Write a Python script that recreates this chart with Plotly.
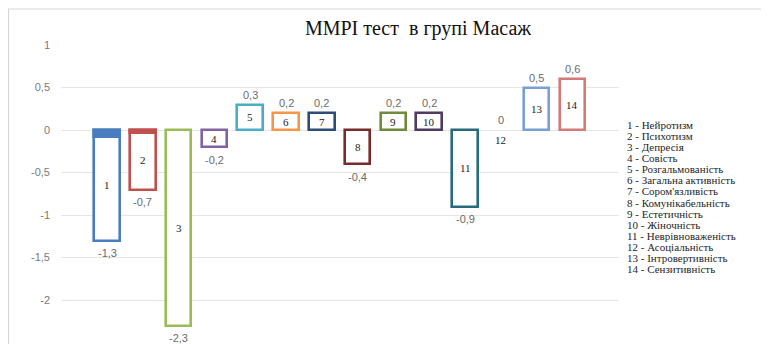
import plotly.graph_objects as go

# ---- data ----
categories = list(range(1, 15))
values = [-1.3, -0.7, -2.3, -0.2, 0.3, 0.2, 0.2, -0.4, 0.2, 0.2, -0.9, 0.0, 0.5, 0.6]
scale_names = [
    "Нейротизм", "Психотизм", "Депресія", "Совість", "Розгальмованість",
    "Загальна активність", "Сором'язливість", "Комунікабельність", "Естетичність",
    "Жіночність", "Неврівноваженість", "Асоціальність", "Інтровертивність", "Сензитивність",
]
# filled top caps visible on bars 1 and 2 of the original picture
cap_values = [-0.08, -0.035, 0, 0, 0, 0, 0, 0, 0, 0, 0, 0, 0, 0]
y_ticks = [-2, -1.5, -1, -0.5, 0, 0.5, 1]
y_tick_labels = ["-2", "-1,5", "-1", "-0,5", "0", "0,5", "1"]
title_text = "MMPI тест  в групі Масаж"

colors = ["#4a7cc0", "#c0504d", "#9bbb59", "#8064a2", "#4bacc6", "#f79646", "#2c4d75",
          "#772c2a", "#6f8a3a", "#4d3b62", "#276a7c", "#b65708", "#7b9fd3", "#d4797a"]

# the page places the figure 8px from the top-left corner of the window
OFF = 8
W, H = 769 - OFF, 344 - OFF
L, R, T, B = 61 - OFF, 150, 45 - OFF, 3
pw, ph = W - L - R, H - T - B

fig = go.Figure()
fig.add_trace(go.Bar(
    x=categories, y=values, width=0.72,
    marker=dict(color="white",
                line=dict(color=colors, width=[0 if v == 0 else 2.6 for v in values])),
    hoverinfo="skip",
))
fig.add_trace(go.Bar(
    x=categories, y=cap_values, width=0.72,
    marker=dict(color=colors, line=dict(color=colors, width=[2.6 if c else 0 for c in cap_values])),
    hoverinfo="skip",
))

ann = []
for c, v in zip(categories, values):
    txt = ("%.1f" % v).replace(".", ",") if v != 0 else "0"
    ann.append(dict(x=c, y=v, xref="x", yref="y", text=txt, showarrow=False,
                    yshift=10 if v >= 0 else -12.5, yanchor="middle",
                    font=dict(family="Liberation Sans", size=11, color="#6b6b6b")))
    ann.append(dict(x=c, y=v / 2, xref="x", yref="y", text=str(c), showarrow=False,
                    yshift=-2 if v == 0 else 0, yanchor="middle" if v != 0 else "top",
                    font=dict(family="Liberation Serif", size=11, color="#222")))
for i, name in enumerate(scale_names):
    ann.append(dict(x=(626 - OFF - L) / pw, y=1, xref="paper", yref="paper", xanchor="left",
                    yanchor="middle", yshift=-(125 - 45) - 11.08 * i, showarrow=False,
                    text=f"{i + 1} - {name}", borderpad=0,
                    font=dict(family="Liberation Serif", size=11, color="#262626")))

fig.update_layout(
    width=W, height=H, margin=dict(l=L, r=R, t=T, b=B, autoexpand=False),
    paper_bgcolor="white", plot_bgcolor="white",
    barmode="overlay", bargap=0, showlegend=False,
    title=dict(text=title_text, x=(418 - OFF) / W, y=1 - (28 - OFF) / H,
               xanchor="center", yanchor="middle",
               xref="container", yref="container",
               font=dict(family="Liberation Serif", size=20, color="#111111")),
    xaxis=dict(range=[1 - 46 / 35.8, 1 + 512 / 35.8], showticklabels=False, showgrid=False,
               zeroline=False, showline=False, ticks=""),
    yaxis=dict(range=[-2.48, 1.0], tickvals=y_ticks, ticktext=y_tick_labels,
               showgrid=True, gridcolor="#e6e6e6", gridwidth=1, zeroline=False,
               showline=False, ticks="", ticklabelstandoff=10,
               tickfont=dict(family="Liberation Sans", size=11, color="#7a7a7a")),
    annotations=ann,
    shapes=[dict(type="rect", xref="paper", yref="paper",
                 x0=(0.5 - L) / pw, x1=(W + 5 - L) / pw,
                 y0=-0.1, y1=1 + (T - 1) / ph,
                 line=dict(color="#d6d6d6", width=1.2), fillcolor="rgba(0,0,0,0)")],
)

fig.write_html("out.html")
